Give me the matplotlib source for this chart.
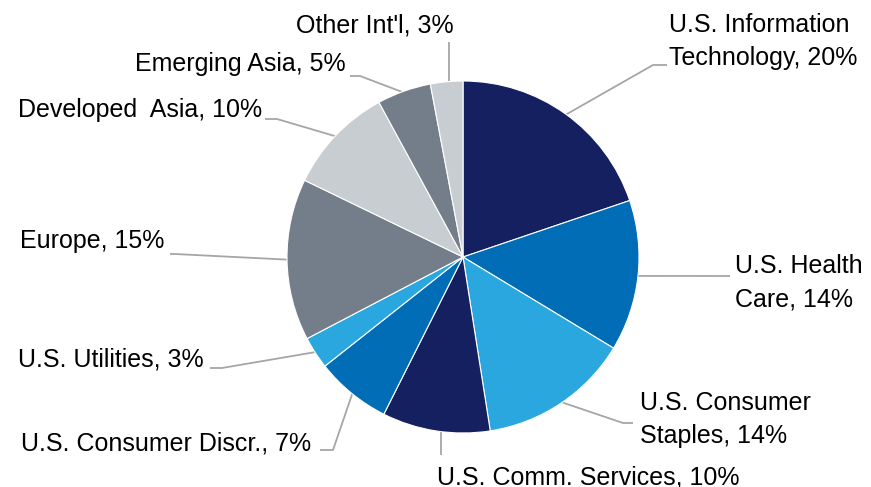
import numpy as np
import matplotlib
matplotlib.use("Agg")
import matplotlib.pyplot as plt

labels = ["U.S. Information\nTechnology, 20%", "U.S. Health\nCare, 14%",
          "U.S. Consumer\nStaples, 14%", "U.S. Comm. Services, 10%",
          "U.S. Consumer Discr., 7%", "U.S. Utilities, 3%", "Europe, 15%",
          "Developed  Asia, 10%", "Emerging Asia, 5%", "Other Int'l, 3%"]
shares = [20, 14, 14, 10, 7, 3, 15, 10, 5, 3]
colors = ["#142060", "#006DB6", "#2AA7DF", "#142060", "#006DB6", "#2AA7DF",
          "#737E8A", "#C8CDD2", "#737E8A", "#C8CDD2"]

# layout in pixel coords (y from top): elbow point, end of horizontal, text anchor
elbow = [(653, 65), (730, 276), (623, 423), (441, 455), (333, 450),
         (222, 368), (175, 254), (277, 119), (360, 76), (449, 42)]
tail = [(667, 65), (730, 276), (633, 423), (441, 455), (320, 450),
        (210, 368), (170, 254), (265, 119), (350, 76), (449, 42)]
text_pos = [(669, 65), (735, 306), (640, 443), (437, 484), (311, 450),
            (204, 366), (164, 248), (262, 117), (346, 71), (454, 32)]
text_ha = ["left", "left", "left", "left", "right", "right", "right", "right",
           "right", "right"]

W, H = 871, 487
cx, cy, r = 463, 257, 176

fig = plt.figure(figsize=(8.71, 4.87), dpi=100)
ax = fig.add_axes([0, 0, 1, 1])

wedges, _ = ax.pie(shares, colors=colors, startangle=90, counterclock=False,
                   center=(cx, H - cy), radius=r,
                   wedgeprops=dict(edgecolor="white", linewidth=0.8))
ax.set_xlim(0, W)
ax.set_ylim(0, H)
ax.set_aspect("equal")
ax.axis("off")

for i, w in enumerate(wedges):
    mid = np.deg2rad((w.theta1 + w.theta2) / 2)
    ex, ey = elbow[i]
    tx, ty = tail[i]
    if abs(ex - cx) < 40:
        # vertical leader: start where the rim meets the elbow's x
        sx = ex
        sy = (H - cy) + np.sign(np.sin(mid)) * np.sqrt(r**2 - (ex - cx)**2) * 0.99
    else:
        sx = cx + r * 0.99 * np.cos(mid)
        sy = (H - cy) + r * 0.99 * np.sin(mid)
    ax.plot([sx, ex, tx], [sy, H - ey, H - ty], color="#A6A6A6", lw=1.3,
            solid_capstyle="butt", zorder=0)
    px, py = text_pos[i]
    ax.text(px, H - py, labels[i], ha=text_ha[i], va="baseline",
            fontsize=18, family="Liberation Sans", color="black",
            linespacing=1.45)

fig.savefig("out.png", dpi=100)
